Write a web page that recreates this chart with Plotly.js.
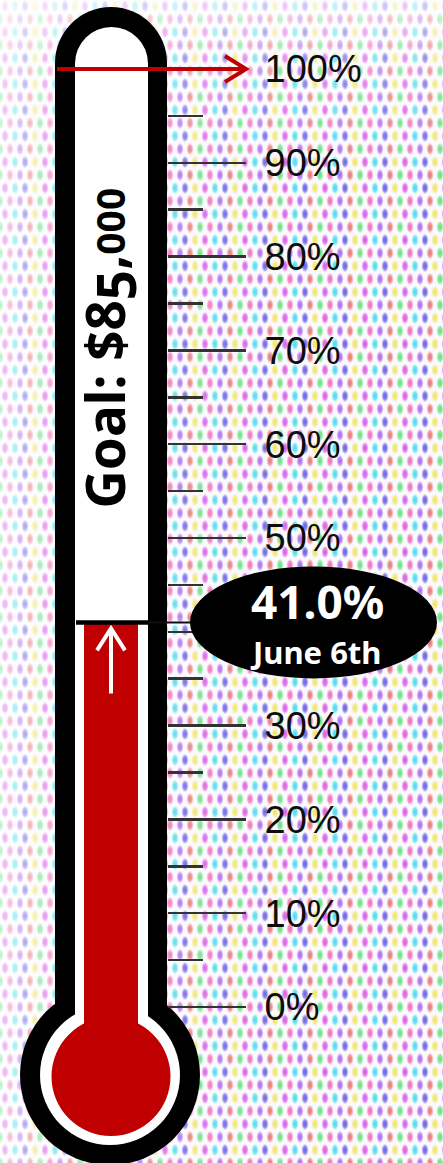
<!DOCTYPE html>
<html>
<head>
<meta charset="utf-8">
<script src="https://cdn.plot.ly/plotly-3.0.1.min.js"></script>
<style>
html,body{margin:0;padding:0;}
body{
  width:443px;height:1163px;overflow:hidden;
  background-color:#fbf9fd;
  background-image:
    linear-gradient(to bottom, rgba(255,255,255,0.65) 0px, rgba(255,255,255,0.25) 60px, rgba(255,255,255,0) 170px),
    linear-gradient(to right, rgba(255,255,255,0.55) 0px, rgba(255,255,255,0.35) 50px, rgba(255,255,255,0.1) 180px, rgba(255,255,255,0) 300px),
    radial-gradient(ellipse 3.6px 6.2px at center, rgba(215,80,225,.95) 0, rgba(215,80,225,.7) 55%, rgba(215,80,225,0) 100%),
    radial-gradient(ellipse 3.6px 6.2px at center, rgba(60,220,235,.95) 0, rgba(60,220,235,.7) 55%, rgba(60,220,235,0) 100%),
    radial-gradient(ellipse 3.6px 6.2px at center, rgba(95,85,225,.95) 0, rgba(95,85,225,.7) 55%, rgba(95,85,225,0) 100%),
    radial-gradient(ellipse 3.6px 6.2px at center, rgba(240,228,90,.95) 0, rgba(240,228,90,.7) 55%, rgba(240,228,90,0) 100%),
    radial-gradient(ellipse 3.6px 6.2px at center, rgba(90,225,120,.95) 0, rgba(90,225,120,.7) 55%, rgba(90,225,120,0) 100%),
    radial-gradient(ellipse 3.6px 6.2px at center, rgba(240,100,180,.95) 0, rgba(240,100,180,.7) 55%, rgba(240,100,180,0) 100%),
    radial-gradient(ellipse 3.6px 6.2px at center, rgba(165,95,240,.95) 0, rgba(165,95,240,.7) 55%, rgba(165,95,240,0) 100%),
    radial-gradient(ellipse 3.6px 6.2px at center, rgba(225,90,90,.85) 0, rgba(225,90,90,.6) 55%, rgba(225,90,90,0) 100%);
  background-size:443px 1163px,443px 1163px,40px 26px,40px 26px,40px 26px,40px 26px,40px 26px,40px 26px,40px 26px,40px 26px;
  background-position:0 0,0 0,-15px -7px,-5px -7px,5px -7px,15px -7px,-20px 6px,-10px 6px,0px 6px,10px 6px;
  background-repeat:no-repeat,no-repeat,repeat,repeat,repeat,repeat,repeat,repeat,repeat,repeat;
}
#chart{width:443px;height:1163px;}
</style>
</head>
<body>
<div id="chart"></div>
<script>
// ---- data ----
const tickValues = [0, 10, 20, 30, 40, 50, 60, 70, 80, 90, 100];
const tickLabels = ['0%', '10%', '20%', '30%', '40%', '50%', '60%', '70%', '80%', '90%', '100%'];
const minorTickValues = [5, 15, 25, 35, 45, 55, 65, 75, 85, 95];
const raisedPct = [41.0];
const goalPct = [100];
const dateLabel = 'June 6th';
const goalPrefix = 'Goal: $';
const goalAmount = '85,000';

// ---- geometry ----
const W = 443, H = 1163;
const zeroPx = 1007, pxPerPct = 9.38;
const yRange = [(zeroPx - H) / pxPerPct, zeroPx / pxPerPct];
const V = (v, dpx) => v - dpx / pxPerPct;      // value shifted by dpx pixels downward
const PY = py => 1 - py / H;                   // pixel row -> paper
const raised = raisedPct[0], goal = goalPct[0];

// the tick whose label sits behind the callout bubble keeps only its (hidden) tick mark
const hidden = v => Math.abs(v - raised) < 5;
const majorVals = tickValues.filter(v => !hidden(v));
const majorText = tickLabels.filter((t, i) => !hidden(tickValues[i]));
const minorVals = minorTickValues.concat(tickValues.filter(hidden));

// old-style figure look of the goal amount: "8" full size, "5" dropped, ",000" small
const goalText = goalPrefix + goalAmount.slice(0, 1) +
  '<sub><span style="font-size:53px">' + goalAmount.slice(1, 2) + '</span></sub>' +
  goalAmount.slice(2, 3) + '<span style="font-size:39px">' + goalAmount.slice(3) + '</span>';

const BLACK = '#000000', RED = '#c00000', WHITE = '#ffffff';

function circ(cx, cy, r, color, layer) {
  return {type:'circle', xref:'x', yref:'paper', x0:cx-r, x1:cx+r, y0:PY(cy+r), y1:PY(cy-r),
          fillcolor:color, line:{width:0}, layer:layer||'below'};
}
function rectP(x0, x1, top, bottom, color) {
  return {type:'rect', xref:'x', yref:'paper', x0:x0, x1:x1, y0:PY(bottom), y1:PY(top),
          fillcolor:color, line:{width:0}, layer:'below'};
}

const shapes = [
  // outer black body
  circ(111, 63, 56, BLACK),
  rectP(55, 167, 63, 1010, BLACK),
  circ(110, 1075, 90, BLACK),
  // white inner tube
  circ(111.5, 63.5, 36.5, WHITE),
  rectP(75, 148, 63.5, 1020, WHITE),
  circ(110, 1075, 70, WHITE),
  // red bulb
  circ(111, 1076.5, 59.5, RED),
  // level line
  {type:'line', xref:'x', yref:'y', x0:76, x1:148, y0:raised, y1:raised, line:{color:BLACK, width:4.5}, layer:'above'},
  {type:'line', xref:'x', yref:'y', x0:148, x1:195, y0:raised, y1:raised, line:{color:'#111', width:2}, layer:'above'},
  // white arrow inside red column
  {type:'path', xref:'x', yref:'y', layer:'above', line:{color:WHITE, width:4},
   path:`M111,${V(raised,71)} L111,${V(raised,6)} M97,${V(raised,28)} L111,${V(raised,6)} L125,${V(raised,28)}`},
  // red arrow at goal
  {type:'path', xref:'x', yref:'y', layer:'above', line:{color:RED, width:4},
   path:`M57,${goal} L246,${goal} M225,${V(goal,-13)} L246,${goal} L225,${V(goal,13)}`},
  // ellipse label background
  {type:'circle', xref:'x', yref:'y', x0:190, x1:437, y0:V(raised,56), y1:V(raised,-56),
   fillcolor:BLACK, line:{width:0}, layer:'above'}
];

const sansBold = {family:'"Noto Sans", "Open Sans", sans-serif', weight:'bold'};
const F = (size, color) => Object.assign({size:size, color:color}, sansBold);
const annotations = [
  {x:317, y:raised, xref:'x', yref:'y', yshift:21, showarrow:false, text:raised.toFixed(1) + '%', font:F(46, WHITE)},
  {x:315, y:raised, xref:'x', yref:'y', yshift:-30, showarrow:false, text:dateLabel, font:F(31, WHITE)},
  // goal label, rotated (reads bottom to top)
  {x:109, y:PY(186), xref:'x', yref:'paper', textangle:-90, showarrow:false, text:goalText, font:F(53, BLACK)}
];

const traces = [{
  type:'bar', x:[111], y:[raised - V(0, 75)], base:[V(0, 75)], width:[54],
  marker:{color:RED, line:{width:0}}, hoverinfo:'skip', showlegend:false
}];

const layout = {
  width:W, height:H, margin:{l:0, r:0, t:0, b:0, pad:0},
  paper_bgcolor:'rgba(0,0,0,0)', plot_bgcolor:'rgba(0,0,0,0)',
  showlegend:false,
  xaxis:{range:[0, W], visible:false, fixedrange:true},
  yaxis:{range:yRange, side:'right', anchor:'free', position:167 / W,
         showgrid:false, zeroline:false, showline:false, fixedrange:true,
         tickmode:'array', tickvals:majorVals, ticktext:majorText,
         ticks:'outside', ticklen:78, tickwidth:2.5, tickcolor:'#333333',
         ticklabelstandoff:11,
         tickfont:{family:'"Liberation Sans", Arial, sans-serif', size:38, color:'#0d0d0d'},
         minor:{tickmode:'array', tickvals:minorVals, ticks:'outside', ticklen:35,
                tickwidth:2.5, tickcolor:'#333333', showgrid:false}},
  shapes:shapes, annotations:annotations
};

Plotly.newPlot('chart', traces, layout, {staticPlot:true, displayModeBar:false});
</script>
</body>
</html>
